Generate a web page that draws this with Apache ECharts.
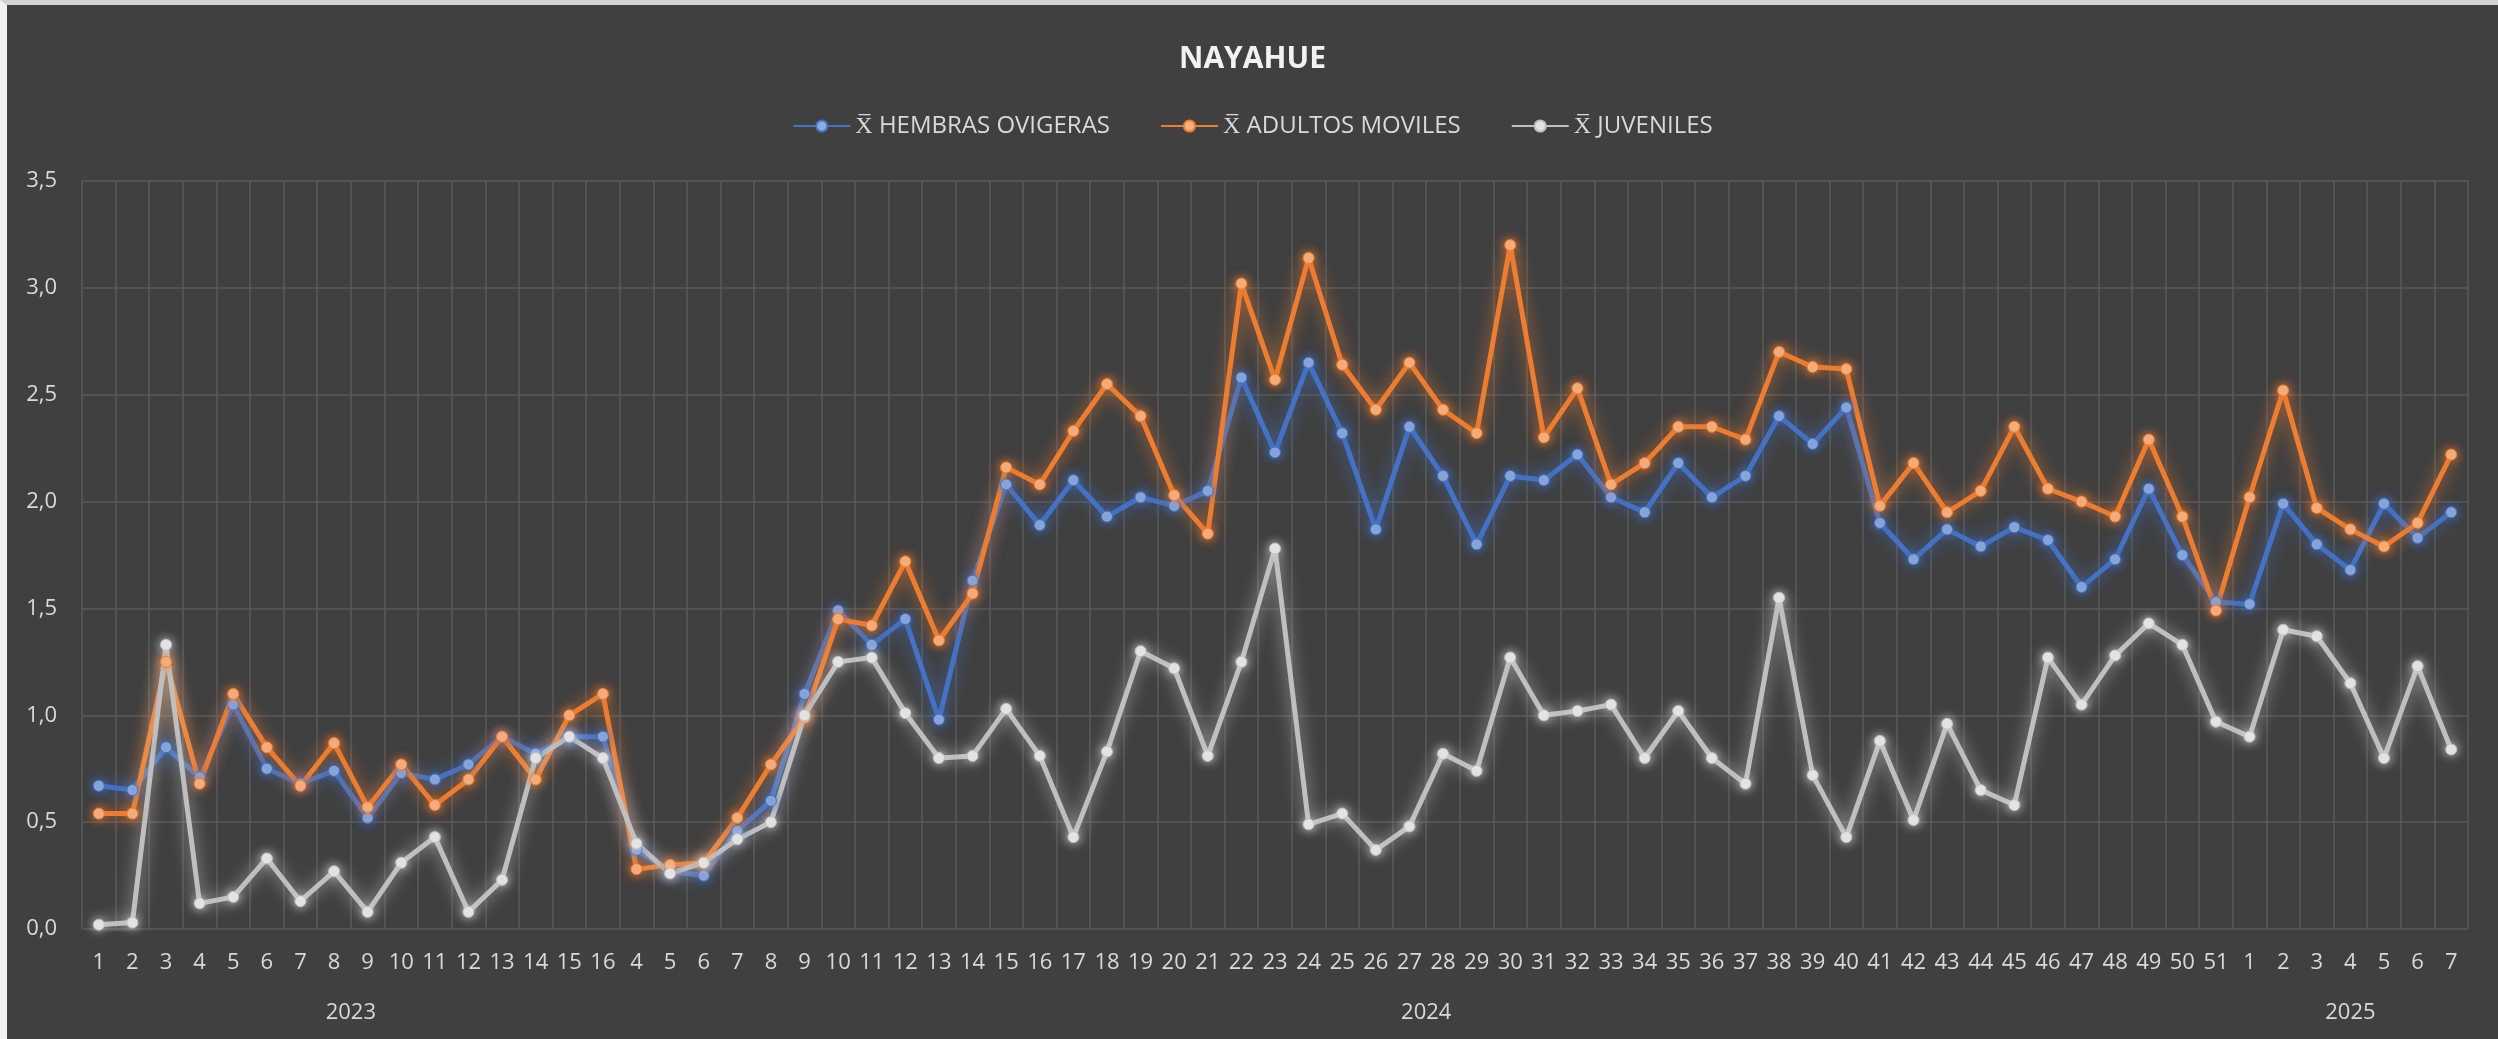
<!DOCTYPE html>
<html>
<head>
<meta charset="utf-8">
<script src="https://cdn.jsdelivr.net/npm/echarts@6/dist/echarts.min.js"></script>
<style>
  html, body { margin: 0; padding: 0; background: #efefef; }
  #wrap { position: absolute; left: 0; top: 0; width: 2498px; height: 1039px; box-sizing: border-box;
          border-top: 5px solid #d2d2d2; border-left: 7px solid #f2f2f2; background: #404040; }
  #chart { width: 2491px; height: 1034px; }
</style>
</head>
<body>
<div id="wrap"><div id="chart"></div></div>
<script>
const titleText = 'NAYAHUE';
const years = ['2023', '2024', '2025'];
const weeks2023 = ['1','2','3','4','5','6','7','8','9','10','11','12','13','14','15','16'];
const weeks2024 = ['4','5','6','7','8','9','10','11','12','13','14','15','16','17','18','19','20','21','22','23','24','25','26','27','28','29','30','31','32','33','34','35','36','37','38','39','40','41','42','43','44','45','46','47','48','49','50','51'];
const weeks2025 = ['1','2','3','4','5','6','7'];

const seriesNames = ['X\u0305 HEMBRAS OVIGERAS', 'X\u0305 ADULTOS MOVILES', 'X\u0305 JUVENILES'];

const hembras = [
  0.67,0.65,0.85,0.71,1.05,0.75,0.68,0.74,0.52,0.73,0.70,0.77,0.90,0.82,0.90,0.90,
  0.37,0.27,0.25,0.46,0.60,1.10,1.49,1.33,1.45,0.98,1.63,2.08,1.89,2.10,1.93,2.02,1.98,2.05,2.58,2.23,
  2.65,2.32,1.87,2.35,2.12,1.80,2.12,2.10,2.22,2.02,1.95,2.18,2.02,2.12,2.40,2.27,2.44,1.90,1.73,1.87,
  1.79,1.88,1.82,1.60,1.73,2.06,1.75,1.53,
  1.52,1.99,1.80,1.68,1.99,1.83,1.95
];
const adultos = [
  0.54,0.54,1.25,0.68,1.10,0.85,0.67,0.87,0.57,0.77,0.58,0.70,0.90,0.70,1.00,1.10,
  0.28,0.30,0.31,0.52,0.77,0.99,1.45,1.42,1.72,1.35,1.57,2.16,2.08,2.33,2.55,2.40,2.03,1.85,3.02,2.57,
  3.14,2.64,2.43,2.65,2.43,2.32,3.20,2.30,2.53,2.08,2.18,2.35,2.35,2.29,2.70,2.63,2.62,1.98,2.18,1.95,
  2.05,2.35,2.06,2.00,1.93,2.29,1.93,1.49,
  2.02,2.52,1.97,1.87,1.79,1.90,2.22
];
const juveniles = [
  0.02,0.03,1.33,0.12,0.15,0.33,0.13,0.27,0.08,0.31,0.43,0.08,0.23,0.80,0.90,0.80,
  0.40,0.26,0.31,0.42,0.50,1.00,1.25,1.27,1.01,0.80,0.81,1.03,0.81,0.43,0.83,1.30,1.22,0.81,1.25,1.78,
  0.49,0.54,0.37,0.48,0.82,0.74,1.27,1.00,1.02,1.05,0.80,1.02,0.80,0.68,1.55,0.72,0.43,0.88,0.51,0.96,
  0.65,0.58,1.27,1.05,1.28,1.43,1.33,0.97,
  0.90,1.40,1.37,1.15,0.80,1.23,0.84
];
const yTicks = [0, 0.5, 1.0, 1.5, 2.0, 2.5, 3.0, 3.5];

const weekGroups = [weeks2023, weeks2024, weeks2025];
const categories = [].concat(weeks2023, weeks2024, weeks2025);
const nCat = categories.length;

// year label positions = middle of each group on a 0..nCat value scale
const yearPos = [];
let acc = 0;
weekGroups.forEach(g => { yearPos.push(acc + g.length / 2); acc += g.length; });

const textColor = '#d9d9d9';
const font = 'Open Sans';
const lineColors = ['#4472C4', '#ED7D31', '#BFBFBF'];
const markColors = ['#8FAADC', '#F4B183', '#E3E3E3'];
const glowColors = ['rgba(68,114,196,0.9)', 'rgba(237,125,49,0.9)', 'rgba(230,230,230,0.75)'];
const dataSets = [hembras, adultos, juveniles];

const chart = echarts.init(document.getElementById('chart'), null, { renderer: 'canvas' });
chart.setOption({
  backgroundColor: '#404040',
  animation: false,
  title: {
    text: titleText, left: 'center', top: 34,
    textStyle: { color: '#f2f2f2', fontFamily: font, fontWeight: 'bold', fontSize: 30 }
  },
  legend: {
    top: 104, left: 'center', itemWidth: 57, itemHeight: 14, itemGap: 50,
    textStyle: { color: textColor, fontFamily: font, fontSize: 24 },
    data: seriesNames
  },
  grid: { left: 75, right: 30, top: 176, bottom: 110, containLabel: false },
  xAxis: [
    {
      type: 'category', data: categories, boundaryGap: true,
      axisLine: { show: false }, axisTick: { show: false },
      axisLabel: { interval: 0, color: textColor, fontFamily: font, fontSize: 22, margin: 23 },
      splitLine: { show: true, interval: 0, lineStyle: { color: '#5a5a5a', width: 1.5 } }
    },
    {
      type: 'value', min: 0, max: nCat, position: 'bottom', offset: 60,
      axisLine: { show: false }, axisTick: { show: false }, splitLine: { show: false },
      axisLabel: {
        color: textColor, fontFamily: font, fontSize: 22, margin: 13,
        customValues: yearPos,
        formatter: v => { const i = yearPos.findIndex(p => Math.abs(p - v) < 1e-6); return i >= 0 ? years[i] : ''; }
      }
    }
  ],
  yAxis: {
    type: 'value', min: 0, max: 3.5, interval: 0.5,
    axisLine: { show: false }, axisTick: { show: false },
    axisLabel: { color: textColor, fontFamily: font, fontSize: 22, margin: 25,
      formatter: v => v.toFixed(1).replace('.', ',') },
    splitLine: { show: true, lineStyle: { color: '#5a5a5a', width: 1.5 } }
  },
  series: dataSets.map((d, i) => ({
    name: seriesNames[i], type: 'line', data: d, xAxisIndex: 0,
    symbol: 'circle', symbolSize: 11, showSymbol: true,
    lineStyle: { color: lineColors[i], width: 5, shadowBlur: 16, shadowColor: glowColors[i] },
    itemStyle: { color: markColors[i], borderColor: lineColors[i], borderWidth: 1,
      shadowBlur: 10, shadowColor: glowColors[i] }
  }))
});
</script>
</body>
</html>
